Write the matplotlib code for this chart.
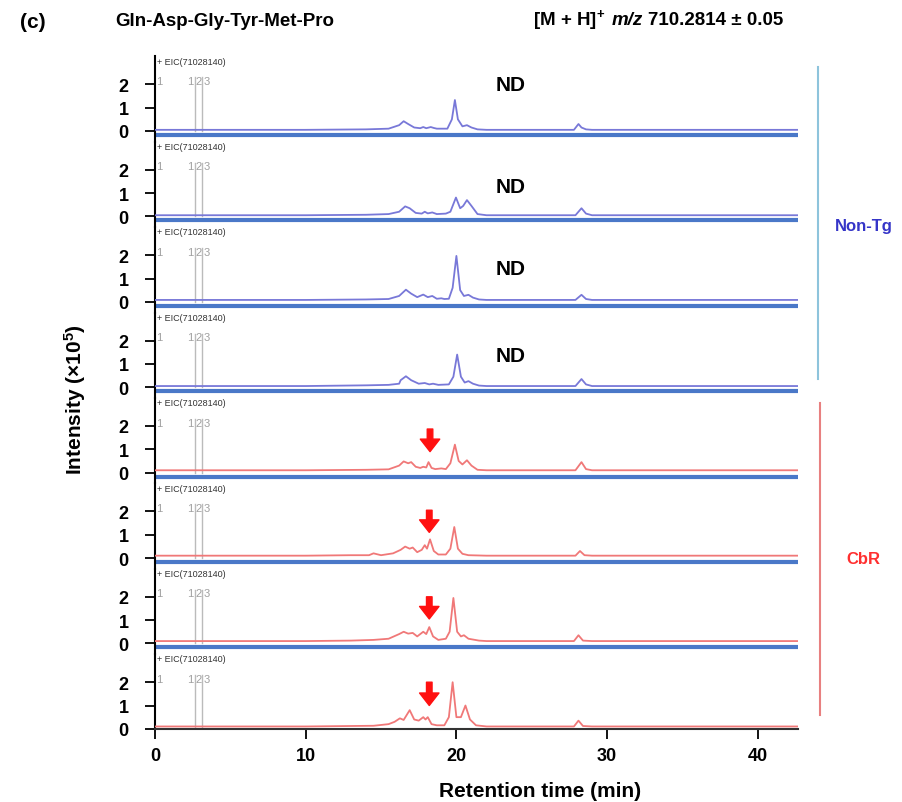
import matplotlib
matplotlib.use("Agg")
import matplotlib.pyplot as plt
from matplotlib.lines import Line2D

plt.rcParams['font.family'] = ['Liberation Sans', 'DejaVu Sans']
plt.rcParams['mathtext.fontset'] = 'custom'
plt.rcParams['mathtext.rm'] = 'Liberation Sans:bold'
plt.rcParams['mathtext.it'] = 'Liberation Sans:bold:italic'
plt.rcParams['mathtext.bf'] = 'Liberation Sans:bold'

# ---------------- data ----------------
groups = ["Non-Tg", "Non-Tg", "Non-Tg", "Non-Tg", "CbR", "CbR", "CbR", "CbR"]

t1 = [0, 10, 14, 15.5, 16.2, 16.5, 16.8, 17.2, 17.6, 17.8, 18.0, 18.3, 18.5, 18.7, 19.4, 19.7, 19.9, 20.1, 20.4, 20.7, 21.0, 21.4, 22, 27.8, 28.1, 28.3, 28.6, 29, 42.7]
y1 = [0.05, 0.05, 0.07, 0.1, 0.25, 0.42, 0.3, 0.15, 0.12, 0.17, 0.12, 0.17, 0.13, 0.1, 0.1, 0.5, 1.33, 0.5, 0.2, 0.25, 0.15, 0.07, 0.05, 0.05, 0.3, 0.15, 0.07, 0.05, 0.05]

t2 = [0, 10, 14, 15.5, 16.2, 16.6, 16.9, 17.3, 17.7, 17.9, 18.1, 18.4, 18.7, 19.3, 19.6, 19.97, 20.25, 20.45, 20.7, 21.0, 21.4, 22, 27.9, 28.3, 28.6, 29, 42.7]
y2 = [0.05, 0.05, 0.07, 0.1, 0.2, 0.43, 0.35, 0.15, 0.12, 0.2, 0.13, 0.17, 0.1, 0.12, 0.2, 0.81, 0.35, 0.45, 0.7, 0.45, 0.1, 0.05, 0.05, 0.35, 0.12, 0.05, 0.05]

t3 = [0, 10, 14, 15.5, 16.2, 16.65, 17.0, 17.4, 17.8, 18.1, 18.4, 18.7, 19.0, 19.2, 19.5, 19.75, 20.0, 20.25, 20.5, 20.8, 21.1, 21.5, 22, 27.9, 28.3, 28.6, 29, 42.7]
y3 = [0.08, 0.08, 0.1, 0.12, 0.25, 0.52, 0.35, 0.2, 0.31, 0.2, 0.25, 0.13, 0.15, 0.12, 0.13, 0.6, 1.97, 0.5, 0.25, 0.3, 0.18, 0.1, 0.08, 0.08, 0.3, 0.12, 0.08, 0.08]

t4 = [0, 10, 14, 15.5, 16.2, 16.3, 16.65, 17.0, 17.5, 17.9, 18.2, 18.45, 18.8, 19.5, 19.8, 20.05, 20.3, 20.55, 20.8, 21.1, 21.5, 22, 27.9, 28.3, 28.6, 29, 42.7]
y4 = [0.05, 0.05, 0.08, 0.1, 0.15, 0.3, 0.47, 0.3, 0.15, 0.18, 0.12, 0.15, 0.1, 0.12, 0.45, 1.4, 0.45, 0.2, 0.26, 0.15, 0.07, 0.05, 0.05, 0.35, 0.12, 0.05, 0.05]

t5 = [0, 10, 14, 15.5, 16.2, 16.5, 16.8, 17.0, 17.3, 17.6, 17.8, 18.0, 18.15, 18.35, 18.6, 19.0, 19.3, 19.6, 19.9, 20.15, 20.4, 20.7, 21.0, 21.4, 22, 27.9, 28.3, 28.6, 29, 42.7]
y5 = [0.1, 0.1, 0.12, 0.14, 0.3, 0.48, 0.4, 0.45, 0.25, 0.2, 0.25, 0.22, 0.45, 0.2, 0.15, 0.18, 0.15, 0.4, 1.2, 0.5, 0.35, 0.53, 0.3, 0.12, 0.1, 0.1, 0.45, 0.15, 0.1, 0.1]

t6 = [0, 10, 13, 14.2, 14.5, 15, 15.8, 16.3, 16.6, 16.9, 17.1, 17.4, 17.7, 17.9, 18.05, 18.25, 18.5, 18.8, 19.3, 19.6, 19.86, 20.1, 20.4, 20.8, 22, 27.9, 28.2, 28.5, 29, 42.7]
y6 = [0.1, 0.1, 0.12, 0.12, 0.2, 0.12, 0.2, 0.35, 0.49, 0.4, 0.45, 0.25, 0.35, 0.55, 0.4, 0.8, 0.3, 0.15, 0.15, 0.4, 1.33, 0.4, 0.18, 0.12, 0.1, 0.1, 0.3, 0.12, 0.1, 0.1]

t7 = [0, 10, 13, 14.5, 15.5, 16.2, 16.5, 16.8, 17.1, 17.4, 17.8, 18.0, 18.2, 18.45, 18.8, 19.3, 19.55, 19.8, 20.05, 20.3, 20.5, 20.8, 21.5, 22, 27.8, 28.1, 28.4, 29, 42.7]
y7 = [0.1, 0.1, 0.12, 0.15, 0.2, 0.4, 0.5, 0.42, 0.45, 0.3, 0.5, 0.4, 0.7, 0.3, 0.15, 0.2, 0.5, 1.95, 0.5, 0.3, 0.35, 0.2, 0.12, 0.1, 0.1, 0.35, 0.12, 0.1, 0.1]

t8 = [0, 10, 13, 14.5, 15.5, 15.9, 16.25, 16.5, 16.9, 17.2, 17.5, 17.8, 17.95, 18.1, 18.35, 18.7, 19.2, 19.5, 19.75, 20.0, 20.3, 20.6, 20.9, 21.3, 22, 27.8, 28.1, 28.4, 29, 42.7]
y8 = [0.1, 0.1, 0.12, 0.13, 0.2, 0.3, 0.45, 0.38, 0.8, 0.4, 0.35, 0.5, 0.4, 0.5, 0.2, 0.15, 0.15, 0.5, 2.0, 0.5, 0.5, 1.0, 0.4, 0.15, 0.1, 0.1, 0.35, 0.12, 0.1, 0.1]

times = [t1, t2, t3, t4, t5, t6, t7, t8]
intens = [y1, y2, y3, y4, y5, y6, y7, y8]

nd_y = [2.0, 1.3, 1.45, 1.36]          # "ND" labels on Non-Tg panels
arrow_t = [18.25, 18.2, 18.2, 18.2]    # red arrows on CbR panels
arrow_top = [1.87, 2.05, 2.0, 2.0]
arrow_tip = [0.9, 1.1, 1.05, 1.0]

marker_t = [2.65, 3.12]
marker_labels = [(0.25, "1"), (2.35, "1"), (2.88, "2"), (3.4, "3")]
yticks = [0, 1, 2]
xticks = [0, 10, 20, 30, 40]

# ---------------- layout ----------------
W, H = 902, 803
fig = plt.figure(figsize=(W / 100, H / 100), dpi=100)

x0_px = 155
px_per_min = 15.07
xmax = 42.7
z0 = 132.0
spacing = 85.4
scale = 23.3
ytop = 3.2

blue_line = '#7878d8'
red_line = '#f07878'
sep_col = '#4a78c8'

axes = []
for k in range(8):
    z = z0 + spacing * k
    top_px = z - ytop * scale
    if k < 7:
        bot_px = z + (spacing - ytop * scale)
    else:
        bot_px = z + 0.5
    ymin = -(bot_px - z) / scale
    ax = fig.add_axes([x0_px / W, 1 - bot_px / H, xmax * px_per_min / W, (bot_px - top_px) / H])
    ax.set_xlim(0, xmax)
    ax.set_ylim(ymin, ytop)
    for s in ['top', 'right']:
        ax.spines[s].set_visible(False)
    ax.spines['left'].set_linewidth(1.5)
    ax.set_yticks(yticks)
    ax.set_yticklabels([str(v) for v in yticks], fontsize=13, fontweight='bold')
    ax.tick_params(axis='y', direction='out', length=7, width=1.3, pad=12)
    col = blue_line if groups[k] == "Non-Tg" else red_line
    if k < 7:
        ax.spines['bottom'].set_visible(False)
        ax.set_xticks([])
        ax.axhline(-0.17, color=sep_col, lw=3, zorder=1)
    else:
        ax.spines['bottom'].set_linewidth(1.5)
        ax.spines['bottom'].set_color('#333333')
        ax.set_xticks(xticks)
        ax.set_xticklabels([str(v) for v in xticks], fontsize=13, fontweight='bold')
        ax.tick_params(axis='x', direction='out', length=7, width=1.3, pad=6)
    ax.plot(times[k], intens[k], color=col, lw=1.3, zorder=3)
    for mt in marker_t:
        ax.plot([mt, mt], [0, 2.3], color='#bbbbbb', lw=1.0, zorder=2)
    for lt, lab in marker_labels:
        ax.text(lt, 2.15, lab, fontsize=8, color='#a0a0a0', ha='center', va='center')
    ax.text(0.15, 3.0, "+ EIC(71028140)", fontsize=6.5, color='#333333', ha='left', va='center',
            family=['Liberation Sans Narrow', 'Liberation Sans', 'DejaVu Sans'])
    ax.patch.set_alpha(0)
    axes.append(ax)

for i in range(4):
    axes[i].text(23.6, nd_y[i], "ND", fontsize=15, fontweight='bold', ha='center', va='center')

for i in range(4):
    axes[4 + i].annotate("", xy=(arrow_t[i], arrow_tip[i]), xytext=(arrow_t[i], arrow_top[i]),
                         arrowprops=dict(facecolor='#ff1010', edgecolor='#ff1010', width=4,
                                         headwidth=14, headlength=9, shrink=0))

# group brackets on the right
fig.add_artist(Line2D([818 / W, 818 / W], [1 - 68 / H, 1 - 380 / H], color='#8ec4dc', lw=1.5))
fig.add_artist(Line2D([820 / W, 820 / W], [1 - 404 / H, 1 - 716 / H], color='#e88080', lw=1.5))
fig.text(864 / W, 1 - 226 / H, "Non-Tg", color='#3535c8', fontsize=12, fontweight='bold', ha='center', va='center')
fig.text(863 / W, 1 - 560 / H, "CbR", color='#ff3030', fontsize=12, fontweight='bold', ha='center', va='center')

# titles
fig.text(20 / W, 1 - 22 / H, "(c)", fontsize=15, fontweight='bold', ha='left', va='center')
fig.text(115 / W, 1 - 22 / H, "Gln-Asp-Gly-Tyr-Met-Pro", fontsize=13.5, fontweight='bold', ha='left', va='center')

renderer = fig.canvas.get_renderer()
pieces = [(r"[M + H]$^{+}$", 'normal', 6), ("m/z", 'italic', 5), ("710.2814 ± 0.05", 'normal', 0)]
xpos = 533.0
for txt, style, gap in pieces:
    tobj = fig.text(xpos / W, 1 - 25 / H, txt, fontsize=13.5, fontweight='bold', fontstyle=style,
                    ha='left', va='baseline')
    bb = tobj.get_window_extent(renderer=renderer)
    xpos += bb.width + gap

fig.text(75 / W, 1 - 400 / H, r"Intensity (×10$^{5}$)", fontsize=15, fontweight='bold', rotation=90,
         ha='center', va='center')
fig.text(540 / W, 1 - 792 / H, "Retention time (min)", fontsize=15, fontweight='bold', ha='center', va='center')

fig.savefig("out.png", dpi=100)
